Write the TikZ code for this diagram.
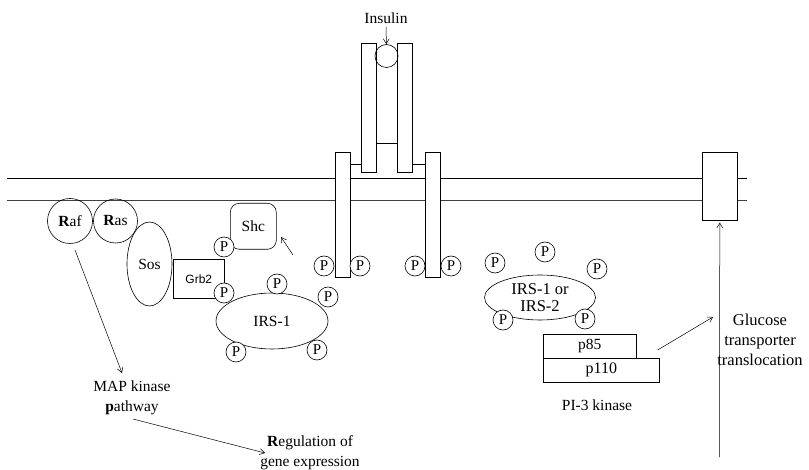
\documentclass[tikz,border=0pt]{standalone}
\usepackage{fontspec}
\setmainfont{Liberation Serif}
\newfontfamily\arialfont{Liberation Sans}
\usetikzlibrary{arrows.meta,shapes.geometric}
\begin{document}
\begin{tikzpicture}[x=1pt,y=-1pt,line width=0.6pt,
  pcirc/.style={circle,draw,fill=white,minimum size=20pt,inner sep=0pt,font=\fontsize{15}{15}\selectfont},
  lbl/.style={font=\fontsize{15.5}{20}\selectfont,align=center,inner sep=0pt},
  bar/.style={draw,fill=white,inner sep=0pt,anchor=north west},
  blob/.style={ellipse,draw,fill=white,inner sep=0pt,font=\fontsize{15.5}{17}\selectfont,align=center},
  arr/.style={-{Straight Barb[length=5pt,width=6pt]},line width=0.5pt}]
\useasboundingbox (0,0) rectangle (809,470);
% membrane
\draw (7,178) -- (747,178);
\draw[black!75] (7,200) -- (747,200);
% receptor
\node[bar,minimum width=15pt,minimum height=125pt] (lb) at (335,152) {};
\node[bar,minimum width=15pt,minimum height=125pt] (rb) at (425,152) {};
\node[bar,minimum width=15pt,minimum height=129pt] (la) at (361,43) {};
\node[bar,minimum width=15pt,minimum height=129pt] (ra) at (397,43) {};
\draw (lb.east |- 0,164) -- (la.west |- 0,164);
\draw (ra.east |- 0,164) -- (rb.west |- 0,164);
\draw (la.east |- 0,143) -- (ra.west |- 0,143);
\node[circle,draw,minimum size=23pt,inner sep=0pt] (ins) at (386.5,56) {};
\node[lbl] (instxt) at (386,18) {Insulin};
\draw[arr,shorten <=3pt] (instxt) -- (ins);
% glucose transporter
\node[bar,minimum width=35pt,minimum height=68pt] (glut) at (702,152) {};
% left pathway
\node[circle,draw,minimum size=45pt,inner sep=0pt,font=\fontsize{15.5}{17}\selectfont] (raf) at (70,221) {\textbf{R}af};
\node[circle,draw,minimum size=44pt,inner sep=0pt,font=\fontsize{15.5}{17}\selectfont] (ras) at (115.5,221) {\textbf{R}as};
\node[blob,minimum width=45pt,minimum height=84pt] (sos) at (149.5,264) {Sos};
\node[bar,minimum width=51pt,minimum height=39pt,font=\arialfont\fontsize{12}{12}\selectfont] (grb) at (173,259) {Grb2};
\node[bar,rounded corners=9pt,minimum width=46pt,minimum height=46pt,font=\fontsize{15.5}{17}\selectfont] (shc) at (230,203) {Shc};
\node[blob,minimum width=112pt,minimum height=56pt] (irs1) at (272,321) {IRS-1};
% right pathway
\node[blob,minimum width=111pt,minimum height=45pt,font=\fontsize{16.5}{17}\selectfont] (irs2) at (540,297.5) {IRS-1 or\\IRS-2};
\node[bar,minimum width=93pt,minimum height=24pt,font=\fontsize{15.5}{17}\selectfont] (p85) at (543,334) {p85};
\node[bar,minimum width=116pt,minimum height=24pt,font=\fontsize{16}{17}\selectfont] (p110) at (543,358) {p110};
\node[lbl] (pi3) at (597,405) {PI-3 kinase};
% phosphates
\node[pcirc] (pr1) at (324,266) {P};
\node[pcirc] (pr2) at (360,266) {P};
\node[pcirc] (pr3) at (415,266) {P};
\node[pcirc] (pr4) at (451,266) {P};
\node[pcirc] (pshc) at (224,247) {P};
\node[pcirc] (pgrb) at (224,293) {P};
\node[pcirc] (pi1a) at (277,284) {P};
\node[pcirc] (pi1b) at (328,297) {P};
\node[pcirc] (pi1c) at (236,352) {P};
\node[pcirc] (pi1d) at (317,350) {P};
\node[pcirc] (pi2a) at (495,263) {P};
\node[pcirc] (pi2b) at (545,252) {P};
\node[pcirc] (pi2c) at (597,269) {P};
\node[pcirc] (pi2d) at (503,320) {P};
\node[pcirc] (pi2e) at (585,319) {P};
% texts
\node[lbl] (mapk) at (132,397.5) {MAP kinase\\\textbf{p}athway};
\node[lbl] (regul) at (310,452.5) {\textbf{R}egulation of\\gene expression};
\node[lbl,font=\fontsize{16.5}{20}\selectfont] (gtt) at (760,340) {Glucose\\transporter\\translocation};
% arrows
\coordinate (shcfrom) at (293,255);
\coordinate (shcto) at (281,237);
\draw[arr] (shcfrom) -- (shcto);
\coordinate (raffrom) at (75,250);
\coordinate (mapto) at (122,373);
\draw[arr] (raffrom) -- (mapto);
\coordinate (mapfrom) at (133,419);
\coordinate (regto) at (265,453);
\draw[arr] (mapfrom) -- (regto);
\coordinate (pito) at (713,317);
\draw[arr] ([shift={(-2,-8)}]p110.north east) -- (pito);
\coordinate (gbot) at (719.5,457);
\draw[arr,shorten >=2pt] (gbot) -- (glut.south);
\end{tikzpicture}
\end{document}
